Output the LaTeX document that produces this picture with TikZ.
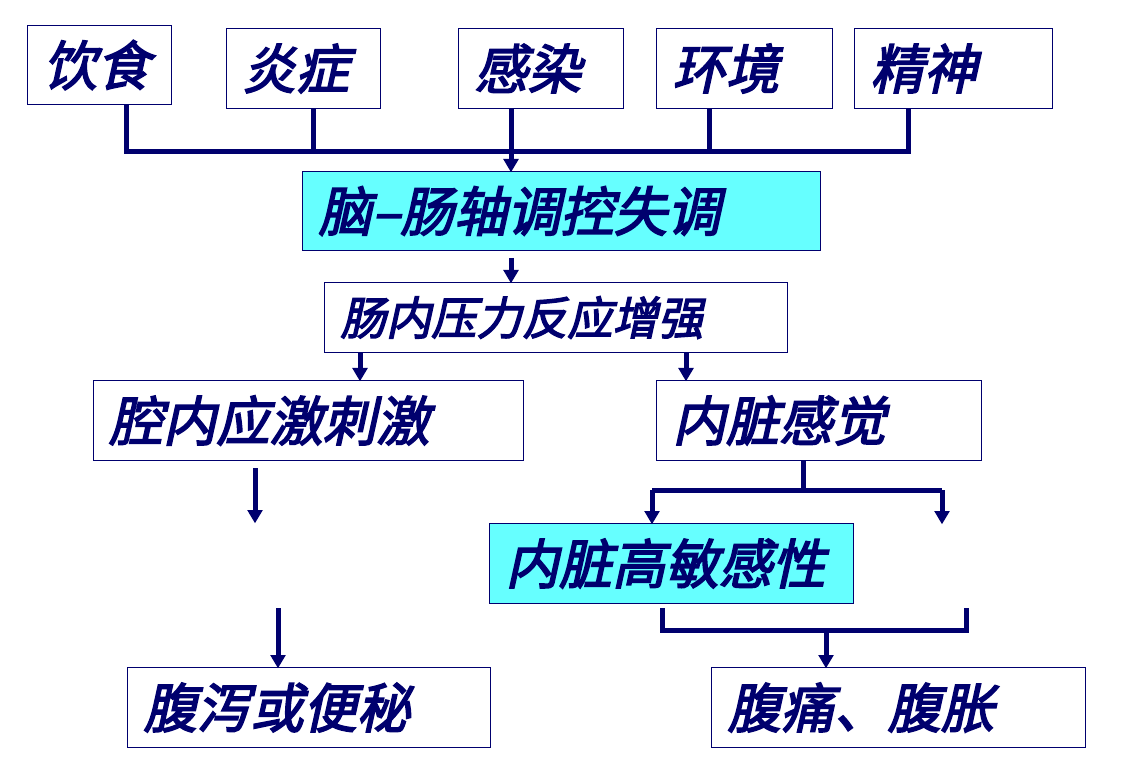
\documentclass[tikz,border=0pt]{standalone}
\usepackage{fontspec}
\usepackage{xcolor}
\usetikzlibrary{arrows.meta}
\newfontfamily\cjk{Noto Sans CJK SC}[FakeSlant=0.22,FakeBold=3]
\definecolor{navy}{RGB}{0,0,110}
\definecolor{lcyan}{RGB}{102,255,255}
\tikzset{
  box/.style={draw=navy, line width=0.8pt, anchor=north west, inner xsep=12pt, inner ysep=0pt,
    align=left, text=navy, font=\cjk\fontsize{40}{42}\selectfont},
  conn/.style={draw=navy, line width=3.75pt},
  arr/.style={conn, -{Triangle[length=10pt,width=11pt]}, shorten >=-1pt}
}
\begin{document}
\begin{tikzpicture}[x=0.75pt,y=-0.75pt]
\useasboundingbox (0,0) rectangle (1128,780);

% top row of causes
\node[box, minimum width=108pt, minimum height=59.25pt, text width=84pt] (yinshi) at (27,25) {饮食};
\node[box, minimum width=115.5pt, minimum height=60pt, text width=91.5pt] (yanzheng) at (226,28) {炎症};
\node[box, minimum width=123.75pt, minimum height=60pt, text width=99.75pt] (ganran) at (458,28) {感染};
\node[box, minimum width=132pt, minimum height=60pt, text width=108pt] (huanjing) at (656,28) {环境};
\node[box, minimum width=148.5pt, minimum height=60pt, text width=124.5pt] (jingshen) at (854,28) {精神};

% middle chain
\node[box, fill=lcyan, minimum width=388.5pt, minimum height=59.25pt, text width=364.5pt] (naochang) at (302,171) {脑–肠轴调控失调};
\node[box, minimum width=347.25pt, minimum height=52.5pt, text width=323.25pt, font=\cjk\fontsize{34}{36}\selectfont] (changnei) at (324,282) {肠内压力反应增强};
\node[box, minimum width=322.5pt, minimum height=60pt, text width=298.5pt] (qiangnei) at (93,380) {腔内应激刺激};
\node[box, minimum width=243.75pt, minimum height=60pt, text width=219.75pt] (neizang) at (656,380) {内脏感觉};
\node[box, fill=lcyan, minimum width=273pt, minimum height=60pt, text width=249pt] (gaomin) at (489,523) {内脏高敏感性};
\node[box, minimum width=272.25pt, minimum height=60pt, text width=248.25pt] (fuxie) at (127,667) {腹泻或便秘};
\node[box, minimum width=280.5pt, minimum height=60pt, text width=256.5pt] (futong) at (711,667) {腹痛、腹胀};

% bus from the causes
\coordinate (busL) at (126,152);
\coordinate (busR) at (908,152);
\draw[conn] (yinshi.south -| busL) -- (busL) -- (busR) -- (jingshen.south -| busR);
\draw[conn] (yanzheng.south -| 313,0) -- (313,152);
\draw[conn] (huanjing.south -| 709,0) -- (709,152);
\draw[arr] (ganran.south -| 511,0) -- (naochang.north -| 511,0);
\draw[arr] (511,258) -- (changnei.north -| 511,0);
\draw[arr] (changnei.south -| 360,0) -- (qiangnei.north -| 360,0);
\draw[arr] (changnei.south -| 686,0) -- (neizang.north -| 686,0);

% left branch
\coordinate (ql) at (255,468);
\coordinate (fl) at (278,608);
\draw[arr] (ql) -- (255,522);
\draw[arr] (fl) -- (fuxie.north -| fl);

% right branch
\coordinate (splitL) at (652,490);
\coordinate (splitR) at (942,490);
\draw[conn] (neizang.south -| 803,0) -- (803,490);
\draw[conn] (splitL) -- (splitR);
\draw[arr] (splitL) -- (gaomin.north -| splitL);
\draw[arr] (splitR) -- (942,523);
\coordinate (joinL) at (662,608);
\coordinate (joinR) at (966,608);
\draw[conn] (joinL) -- (662,630) -- (966,630) -- (joinR);
\draw[arr] (826,630) -- (futong.north -| 826,0);
\end{tikzpicture}
\end{document}
